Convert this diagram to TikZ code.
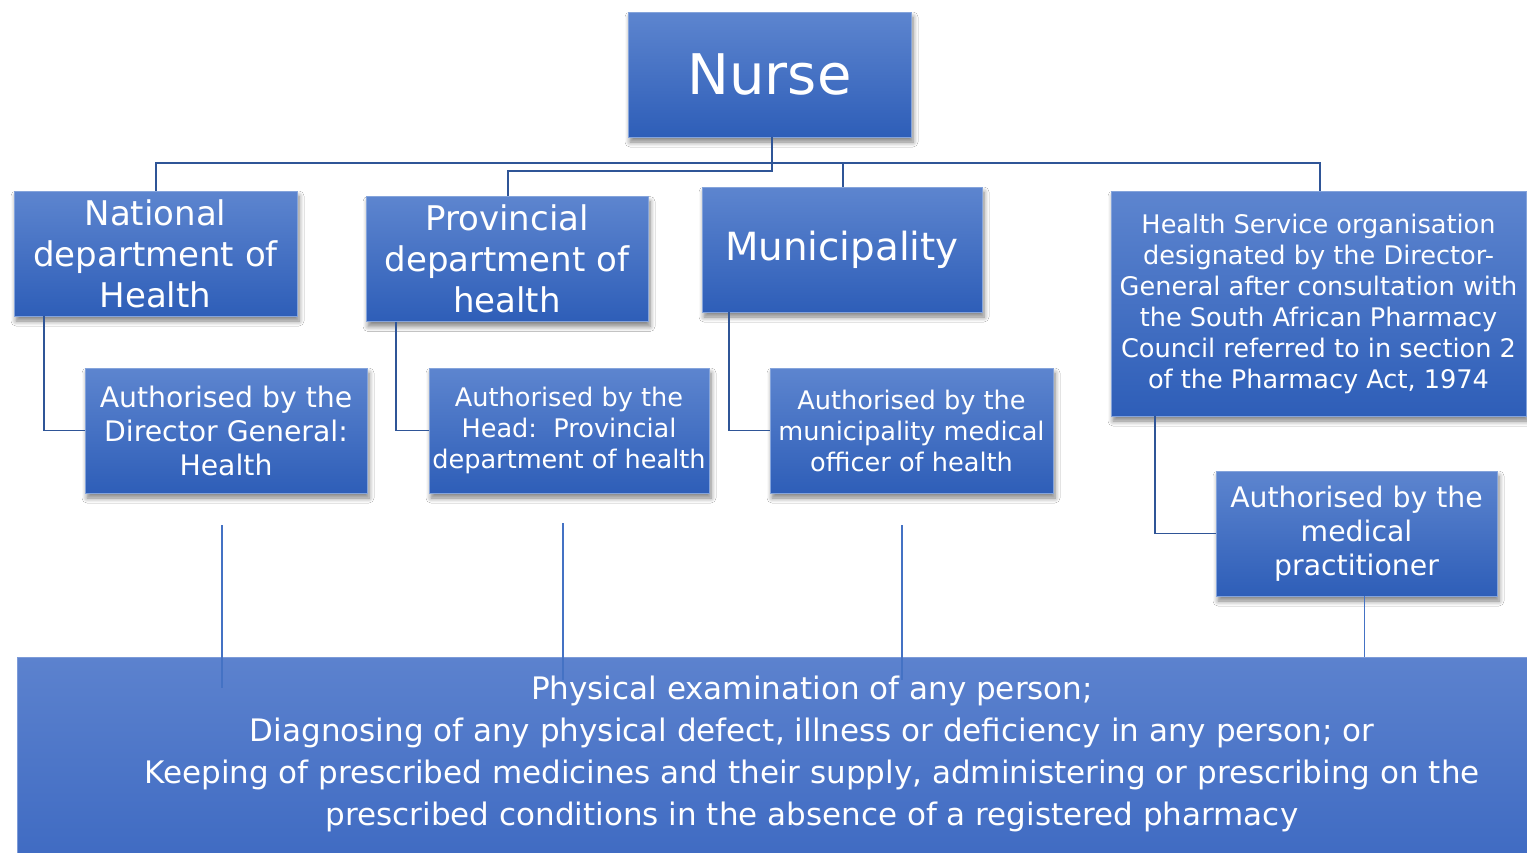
\documentclass[tikz,border=0pt]{standalone}
\usepackage{fontspec}
\setmainfont{DejaVu Sans}
\usetikzlibrary{shadows.blur,calc}
\definecolor{boxtop}{RGB}{93,133,207}
\definecolor{boxbot}{RGB}{46,94,184}
\definecolor{bigtop}{RGB}{92,130,206}
\definecolor{bigbot}{RGB}{62,106,194}
\definecolor{conn}{RGB}{47,85,151}
\definecolor{connlight}{RGB}{68,114,196}
\begin{document}
\begin{tikzpicture}[x=1pt,y=-1pt,
  box/.style={rectangle, inner sep=0pt, top color=boxtop, bottom color=boxbot,
    draw=boxtop!75!white, line width=0.6pt, text=white, align=center,
    blur shadow={shadow xshift=2pt, shadow yshift=-5pt, shadow blur steps=6, shadow blur radius=5pt, shadow opacity=50}},
  bigbox/.style={rectangle, inner sep=0pt, top color=bigtop, bottom color=bigbot,
    draw=bigtop!80!white, line width=0.8pt},
  wire/.style={draw=conn, line width=1.8pt},
  thinwire/.style={draw=connlight, line width=1.6pt},
  fA/.style={font=\fontsize{34}{41}\selectfont},
  fB/.style={font=\fontsize{25.6}{31}\selectfont},
  fC/.style={font=\fontsize{28.3}{34}\selectfont},
]
\useasboundingbox (0,0) rectangle (1527,852);
\clip (0,0) rectangle (1527,852);
\fill[white] (0,0) rectangle (1527,852);

% bottom box
\node[bigbox, minimum width=1590pt, minimum height=210pt] (bottom) at (812,762) {};
\node[text=white, align=center, font=\fontsize{31}{42}\selectfont] (bottomtext) at (812,754)
  {Physical examination of any person;\\
   Diagnosing of any physical defect, illness or deficiency in any person; or\\
   Keeping of prescribed medicines and their supply, administering or prescribing on the\\
   prescribed conditions in the absence of a registered pharmacy};

% top level
\node[box, minimum width=283pt, minimum height=125pt, font=\fontsize{56}{60}\selectfont] (nurse) at (769.5,74.5) {Nurse};

\node[box, fA, minimum width=283pt, minimum height=125pt] (nat) at (155.5,253.5) {National\\department of\\Health};
\node[box, fA, minimum width=282pt, minimum height=125pt] (prov) at (507,259) {Provincial\\department of\\health};
\node[box, minimum width=280pt, minimum height=125pt, font=\fontsize{38.8}{44}\selectfont] (muni) at (842,249.5) {Municipality};
\node[box, fB, minimum width=415pt, minimum height=225pt] (hso) at (1318.5,303.5)
  {Health Service organisation\\designated by the Director-\\General after consultation with\\the South African Pharmacy\\Council referred to in section 2\\of the Pharmacy Act, 1974};

% authorisers
\node[box, fC, minimum width=282pt, minimum height=125pt] (a1) at (226,430.5) {Authorised by the\\Director General:\\Health};
\node[box, fB, minimum width=280pt, minimum height=125pt] (a2) at (569,430.5) {Authorised by the\\Head:\ \ Provincial\\department of health};
\node[box, fB, minimum width=283pt, minimum height=125pt] (a3) at (911.5,430.5) {Authorised by the\\municipality medical\\officer of health};
\node[box, fC, minimum width=281pt, minimum height=125pt] (a4) at (1356.5,533.5) {Authorised by the\\medical\\practitioner};

% tree connectors
\coordinate (bus) at (772,163);
\draw[wire] ([xshift=2.5pt]nurse.south) -- ++(0,34) -| ([xshift=1pt]prov.north);
\draw[wire] ([xshift=0.5pt]nat.north) |- (bus) -| ([xshift=1.5pt]hso.north);
\draw[wire] ([xshift=1pt]muni.north) |- (bus);

\draw[wire] ([xshift=30pt]nat.south west) |- (a1.west);
\draw[wire] ([xshift=30pt]prov.south west) |- (a2.west);
\draw[wire] ([xshift=27pt]muni.south west) |- (a3.west);
\draw[wire] ([xshift=44pt]hso.south west) |- (a4.west);
\draw[thinwire] ([xshift=8pt]a4.south) -- ([xshift=8pt]a4.south |- bottom.north);

% free lines
\coordinate (f1) at (222,525);
\coordinate (f2) at (563,523);
\coordinate (f3) at (902,525);
\draw[thinwire] (f1) -- ++(0,163);
\draw[thinwire] (f2) -- ++(0,157);
\draw[thinwire] (f3) -- ++(0,155);
\end{tikzpicture}
\end{document}
